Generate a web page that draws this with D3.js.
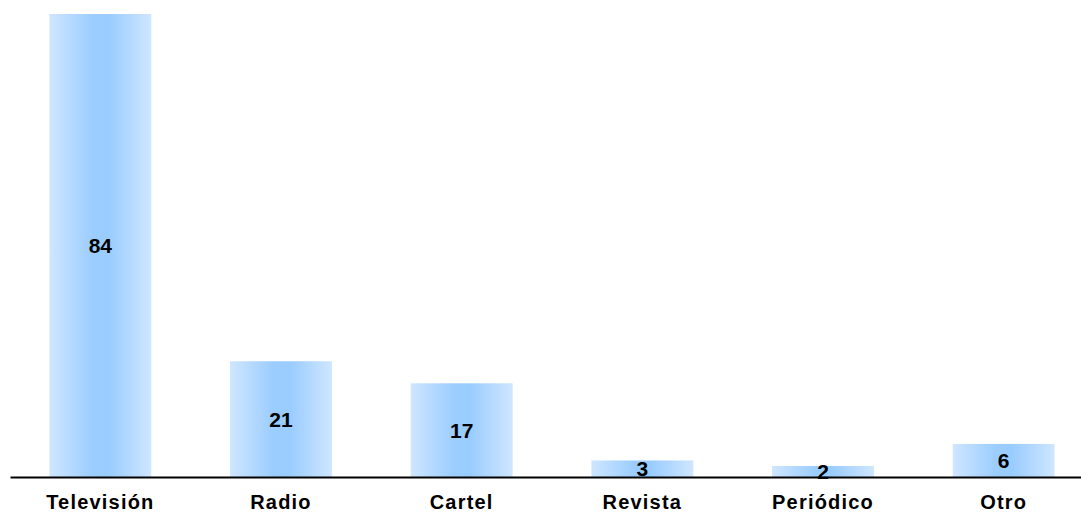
<!DOCTYPE html>
<html>
<head>
<meta charset="utf-8">
<script src="https://cdn.jsdelivr.net/npm/d3@7"></script>
<style>
  html, body { margin: 0; padding: 0; background: #ffffff; }
  svg { display: block; }
</style>
</head>
<body>
<svg id="chart" width="1081" height="514"></svg>
<script>
// Medios por los que se enteraron
const categories = ["Televisión", "Radio", "Cartel", "Revista", "Periódico", "Otro"];
const values = [84, 21, 17, 3, 2, 6];

const width = 1081, height = 514;
const svg = d3.select("#chart");

const x = d3.scaleBand()
  .domain(categories)
  .range([10, 1094])
  .paddingInner(0.436)
  .paddingOuter(0.218);

const y = d3.scaleLinear()
  .domain([0, 84])
  .range([477, 14]);

// Horizontal gradient: pale edges, deeper blue across the middle
const defs = svg.append("defs");
const grad = defs.append("linearGradient")
  .attr("id", "barFill")
  .attr("x1", "0%").attr("x2", "100%")
  .attr("y1", "0%").attr("y2", "0%");
grad.append("stop").attr("offset", "0%").attr("stop-color", "#cfe6ff");
grad.append("stop").attr("offset", "42%").attr("stop-color", "#9ccdff");
grad.append("stop").attr("offset", "58%").attr("stop-color", "#99ccff");
grad.append("stop").attr("offset", "100%").attr("stop-color", "#cfe6ff");

const data = categories.map((c, i) => ({ cat: c, val: values[i] }));

svg.append("g")
  .selectAll("rect")
  .data(data)
  .join("rect")
  .attr("x", d => x(d.cat))
  .attr("y", d => y(d.val))
  .attr("width", x.bandwidth())
  .attr("height", d => y(0) - y(d.val))
  .attr("fill", "url(#barFill)");

// Value labels centred inside each bar
svg.append("g")
  .selectAll("text")
  .data(data)
  .join("text")
  .attr("x", d => x(d.cat) + x.bandwidth() / 2)
  .attr("y", d => (y(d.val) + y(0)) / 2)
  .attr("text-anchor", "middle")
  .attr("dominant-baseline", "central")
  .style("font-family", "'Liberation Sans', Arial, sans-serif")
  .style("font-weight", "bold")
  .style("font-size", "21px")
  .attr("fill", "#000")
  .text(d => d.val);

// Category axis
const xAxis = d3.axisBottom(x).tickSize(0).tickSizeOuter(0).tickPadding(18);
const axisG = svg.append("g")
  .attr("transform", `translate(0,${y(0)})`)
  .call(xAxis);
axisG.select(".domain")
  .attr("stroke", "#000")
  .attr("stroke-width", 2);
axisG.selectAll("text")
  .style("font-family", "'Liberation Sans', Arial, sans-serif")
  .style("font-weight", "bold")
  .style("font-size", "20px")
  .style("letter-spacing", "1.2px")
  .attr("fill", "#000");
</script>
</body>
</html>
